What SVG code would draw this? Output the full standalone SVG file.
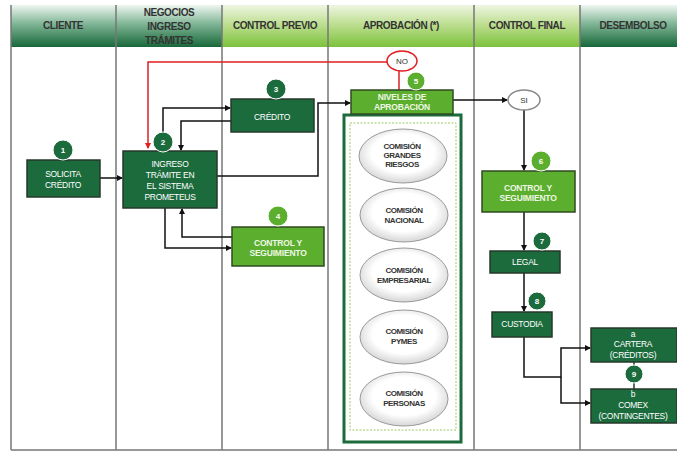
<svg xmlns="http://www.w3.org/2000/svg" width="677" height="451" viewBox="0 0 677 451">
<defs>
<linearGradient id="hd" x1="0" y1="0" x2="0" y2="1"><stop offset="0" stop-color="#eef6f0"/><stop offset="0.45" stop-color="#7fb595"/><stop offset="1" stop-color="#17683a"/></linearGradient>
<linearGradient id="hl" x1="0" y1="0" x2="0" y2="1"><stop offset="0" stop-color="#eef6e2"/><stop offset="0.5" stop-color="#b9dc8a"/><stop offset="1" stop-color="#7cc23b"/></linearGradient>
<radialGradient id="el" cx="0.5" cy="0.45" r="0.55"><stop offset="0.65" stop-color="#ffffff"/><stop offset="1" stop-color="#d6d6d6"/></radialGradient>
<marker id="ar" markerWidth="6" markerHeight="6" refX="5" refY="3" orient="auto" markerUnits="userSpaceOnUse"><path d="M0,0 L6,3 L0,6 z" fill="#111"/></marker>
<marker id="arr" markerWidth="6" markerHeight="6" refX="5" refY="3" orient="auto" markerUnits="userSpaceOnUse"><path d="M0,0 L6,3 L0,6 z" fill="#e02020"/></marker>
</defs>
<style>
.hdt{font-family:"Liberation Sans",Arial,sans-serif;font-weight:bold;font-size:10px;fill:#333;text-anchor:middle;letter-spacing:-0.4px}
.lane{stroke:#777;stroke-width:1.5;fill:none}
.dk{fill:#1b6b3c;stroke:#26392b;stroke-width:1.5}
.lt{fill:#5cae2e;stroke:#2f4a22;stroke-width:1.5}
.t{font-family:"Liberation Sans",Arial,sans-serif;font-size:8.5px;fill:#fff;text-anchor:middle;letter-spacing:-0.3px}
.tb{font-family:"Liberation Sans",Arial,sans-serif;font-size:8.5px;font-weight:bold;fill:#eef8e4;text-anchor:middle;letter-spacing:-0.2px}
.cd{fill:#1b6b3c;stroke:#fff;stroke-width:1}
.cl{fill:#5cae2e;stroke:#fff;stroke-width:1}
.cn{font-family:"Liberation Sans",Arial,sans-serif;font-size:8px;font-weight:bold;fill:#fff;text-anchor:middle}
.ct{font-family:"Liberation Sans",Arial,sans-serif;font-size:8px;font-weight:bold;fill:#333;text-anchor:middle;letter-spacing:-0.4px}
.el{fill:url(#el);stroke:#999;stroke-width:1}
.c{fill:none;stroke:#111;stroke-width:1.5;marker-end:url(#ar)}
.r{fill:none;stroke:#e02020;stroke-width:1.5}
</style>
<rect width="677" height="451" fill="#fff"/>
<g id="headers">
<rect x="11" y="5" width="105" height="42" fill="url(#hd)"/>
<rect x="116" y="5" width="106" height="42" fill="url(#hd)"/>
<rect x="222" y="5" width="106" height="42" fill="url(#hl)"/>
<rect x="328" y="5" width="146" height="42" fill="url(#hl)"/>
<rect x="474" y="5" width="106" height="42" fill="url(#hl)"/>
<rect x="580" y="5" width="97" height="42" fill="url(#hd)"/>
<text class="hdt" x="63" y="29">CLIENTE</text>
<text class="hdt" x="169" y="16">NEGOCIOS</text>
<text class="hdt" x="169" y="30">INGRESO</text>
<text class="hdt" x="169" y="44">TRÁMITES</text>
<text class="hdt" x="275" y="29">CONTROL PREVIO</text>
<text class="hdt" x="401" y="29">APROBACIÓN (*)</text>
<text class="hdt" x="527" y="29">CONTROL FINAL</text>
<text class="hdt" x="633" y="29">DESEMBOLSO</text>
</g>
<g id="lanes">
<path class="lane" d="M11,5 V450 M116,5 V450 M222,5 V450 M328,5 V450 M474,5 V450 M580,5 V450 M11,450 H677"/>
</g>
<g id="connectors">
<path class="c" d="M100,178 H122"/>
<path class="c" d="M163,142 V108 H230"/>
<path class="c" d="M231,121 H181 V150"/>
<path class="c" d="M217,176 H318 V103 H350"/>
<path class="c" d="M232,237 H182 V209"/>
<path class="c" d="M165,208 V248 H231"/>
<path class="r" d="M399,90 V71"/>
<path class="r" d="M387,62 H148 V148" style="marker-end:url(#arr)"/>
<path class="c" d="M453,100 H507"/>
<path class="c" d="M524,110 V170"/>
<path class="c" d="M524,212 V250"/>
<path class="c" d="M524,273 V311"/>
<path class="c" d="M524,337 V377 H561 V348 H590"/>
<path class="c" d="M561,377 V403 H590"/>
<path fill="none" stroke="#26392b" stroke-width="1.5" d="M634,362 V389"/>
</g>
<g id="n1"><rect class="dk" x="27" y="160" width="73" height="37"/><circle class="cd" cx="63" cy="150" r="10"/><text class="cn" x="63" y="153">1</text><text class="t" x="63" y="177">SOLICITA</text><text class="t" x="63" y="188">CRÉDITO</text></g>
<g id="n2"><rect class="dk" x="123" y="151" width="94" height="57"/><circle class="cd" cx="163" cy="142" r="10"/><text class="cn" x="163" y="145">2</text><text class="t" x="170" y="167">INGRESO</text><text class="t" x="170" y="178">TRÁMITE  EN</text><text class="t" x="170" y="189">EL SISTEMA</text><text class="t" x="170" y="200">PROMETEUS</text></g>
<g id="n3"><rect class="dk" x="231" y="99" width="83" height="33"/><circle class="cd" cx="276" cy="89" r="10"/><text class="cn" x="276" y="92">3</text><text class="t" x="272" y="120">CRÉDITO</text></g>
<g id="n4"><rect class="lt" x="232" y="227" width="92" height="39"/><circle class="cl" cx="278" cy="216" r="10"/><text class="cn" x="278" y="219">4</text><text class="tb" x="278" y="246">CONTROL  Y</text><text class="tb" x="278" y="256">SEGUIMIENTO</text></g>
<g id="comisiones">
<rect x="344" y="115" width="117" height="327" fill="#fff" stroke="#1b6b3c" stroke-width="3"/>
<rect x="350" y="123" width="106" height="307" fill="none" stroke="#9acb62" stroke-width="1" stroke-dasharray="2,1.5"/>
<ellipse class="el" cx="403" cy="156" rx="44" ry="27"/>
<text class="ct" x="402" y="149">COMISIÓN</text><text class="ct" x="402" y="158">GRANDES</text><text class="ct" x="402" y="167">RIESGOS</text>
<ellipse class="el" cx="404" cy="215" rx="44" ry="27"/>
<text class="ct" x="404" y="213">COMISIÓN</text><text class="ct" x="404" y="223">NACIONAL</text>
<ellipse class="el" cx="404" cy="275" rx="44" ry="27"/>
<text class="ct" x="404" y="273">COMISIÓN</text><text class="ct" x="404" y="283">EMPRESARIAL</text>
<ellipse class="el" cx="404" cy="337" rx="44" ry="27"/>
<text class="ct" x="404" y="334">COMISIÓN</text><text class="ct" x="404" y="344">PYMES</text>
<ellipse class="el" cx="404" cy="399" rx="44" ry="27"/>
<text class="ct" x="404" y="396">COMISIÓN</text><text class="ct" x="404" y="406">PERSONAS</text>
</g>
<g id="n5"><rect class="lt" x="351" y="90" width="102" height="24"/><circle class="cl" cx="416" cy="81" r="9"/><text class="cn" x="416" y="84">5</text><text class="tb" x="402" y="100">NIVELES DE</text><text class="tb" x="402" y="110">APROBACIÓN</text></g>
<g id="no"><ellipse cx="402" cy="61" rx="15" ry="10" fill="#fff" stroke="#e02020" stroke-width="1.5"/><text x="402" y="64" font-family="Liberation Sans,Arial,sans-serif" font-size="8" fill="#333" text-anchor="middle">NO</text></g>
<g id="si"><ellipse cx="524" cy="100" rx="16" ry="10" fill="#fff" stroke="#888" stroke-width="1.5"/><text x="524" y="103" font-family="Liberation Sans,Arial,sans-serif" font-size="8" fill="#333" text-anchor="middle">SI</text></g>
<g id="n6"><rect class="lt" x="482" y="171" width="93" height="41"/><circle class="cl" cx="541" cy="161" r="10"/><text class="cn" x="541" y="164">6</text><text class="tb" x="528" y="191">CONTROL  Y</text><text class="tb" x="528" y="201">SEGUIMIENTO</text></g>
<g id="n7"><rect class="dk" x="490" y="251" width="70" height="22"/><circle class="cd" cx="542" cy="241" r="9"/><text class="cn" x="542" y="244">7</text><text class="t" x="525" y="265">LEGAL</text></g>
<g id="n8"><rect class="dk" x="492" y="312" width="60" height="25"/><circle class="cd" cx="537" cy="301" r="9"/><text class="cn" x="537" y="304">8</text><text class="t" x="522" y="327">CUSTODIA</text></g>
<g id="n9a"><rect class="dk" x="591" y="328" width="86" height="34"/><text class="t" x="633" y="337">a</text><text class="t" x="633" y="347">CARTERA</text><text class="t" x="633" y="358">(CRÉDITOS)</text></g>
<g id="n9b"><rect class="dk" x="591" y="389" width="86" height="34"/><text class="t" x="633" y="397">b</text><text class="t" x="633" y="408">COMEX</text><text class="t" x="633" y="419">(CONTINGENTES)</text></g>
<g id="n9"><circle class="cd" cx="634" cy="374" r="9"/><text class="cn" x="634" y="377">9</text></g>
</svg>
